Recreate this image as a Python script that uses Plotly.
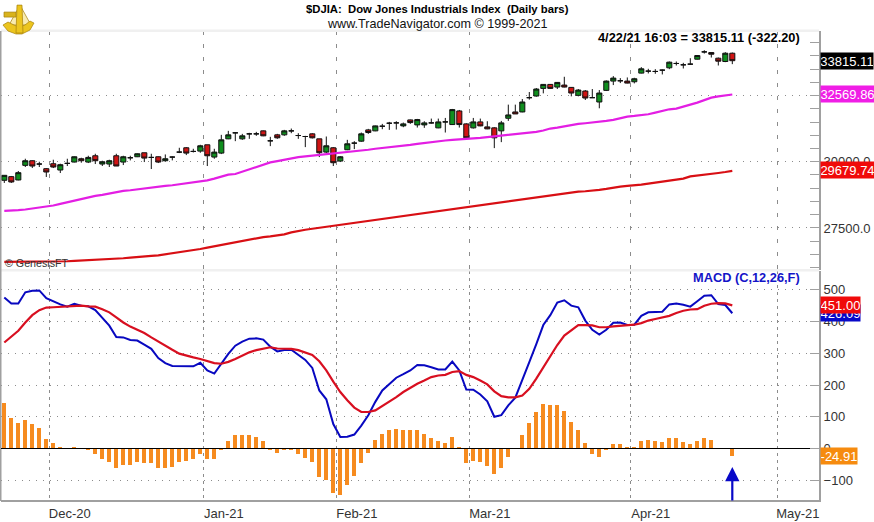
import plotly.graph_objects as go

FONT = "Liberation Sans"

month_labels = ["Dec-20", "Jan-21", "Feb-21", "Mar-21", "Apr-21", "May-21"]
month_first_bar = [7, 29, 48, 67, 90, 111]
price_ticks = [27500, 30000, 32500]
price_tick_labels = ["27500.0", "30000.0", ""]

opens = [29299,29437,29311,29863,30038,29913,29737,29925,29687,29938,29988,30113,29988,30226,29913,29913,30226,29988,30151,30188,30339,30163,30188,30038,30176,30364,30527,30389,30401,30640,30176,30326,30865,31091,30865,31053,31053,31166,30790,31015,31015,31166,30990,30953,31053,30865,30364,30527,30026,30452,30702,30777,31203,31166,31341,31454,31467,31354,31579,31391,31391,31467,31279,31504,31404,31918,31429,31279,31504,31316,31279,31166,31642,31880,31880,32419,32481,32770,32920,32820,32895,32807,32506,32670,32419,32256,32695,33045,33058,33045,33020,33346,33421,33409,33459,33547,33710,33660,33685,33872,34148,34123,33910,33785,34098]
highs = [29487,29462,29650,30113,30051,30000,29762,30076,29925,30113,30201,30151,30226,30301,30038,30076,30301,30226,30226,30314,30339,30301,30201,30276,30201,30527,30552,30489,30640,30640,30489,31015,31166,31103,31053,31091,31128,31178,30940,31053,31203,31253,31078,30978,31078,30865,30953,30552,30214,30827,30777,31103,31241,31366,31429,31504,31529,31479,31592,31617,31529,31629,31629,31654,31993,31955,31454,31654,31629,31529,31304,31542,32156,32156,32368,32632,32782,32933,32933,33008,33208,32820,32745,32707,32745,32707,33070,33233,33158,33183,33170,33572,33509,33496,33484,33785,33785,33735,33910,34023,34211,34123,33935,34136,34123]
lows = [29199,29199,29299,29800,29762,29800,29424,29762,29574,29838,29975,29963,29950,29913,29838,29800,29838,29875,30051,30176,29988,29725,29950,30000,30051,30326,30251,30351,30339,29838,30113,30289,30853,30777,30827,30865,30978,30965,30589,30865,30978,31078,30865,30552,30878,30176,30326,29838,29988,30439,30477,30752,31053,31153,31228,31203,31216,31304,31429,31291,31279,31442,31266,31103,31391,31291,30890,31253,31341,31228,30514,30740,31542,31805,31868,32344,32456,32582,32757,32745,32807,32469,32469,32331,32406,32018,32670,32895,32970,32958,32958,33334,33334,33321,33296,33496,33634,33521,33660,33860,34085,33935,33634,33760,33685]
closes = [29487,29236,29587,30038,29838,29913,29612,29800,29888,29938,30188,30038,30163,30038,30000,30038,29838,30188,30151,30301,30138,30163,29988,30113,30176,30364,30326,30389,30602,30226,30364,30827,31015,31091,30978,31053,31053,30978,30790,30903,31166,31166,30990,30953,30903,30339,30602,29963,30188,30677,30702,31053,31103,31354,31341,31454,31467,31429,31479,31592,31467,31467,31504,31504,31968,31404,30903,31504,31354,31241,30903,31467,31767,31805,32256,32419,32745,32920,32770,32995,32820,32594,32707,32406,32419,32594,33045,33158,33058,32970,33133,33509,33421,33409,33459,33760,33710,33660,33685,34010,34148,34060,33797,34098,33815.11]

ma_fast = [28146,28146,28171,28196,28234,28259,28296,28347,28409,28472,28547,28610,28672,28710,28747,28798,28860,28898,28923,28960,28998,29036,29061,29086,29111,29148,29186,29211,29249,29299,29361,29437,29512,29537,29625,29725,29813,29913,29975,30026,30076,30138,30176,30201,30226,30264,30289,30301,30326,30351,30389,30426,30452,30489,30514,30552,30577,30614,30640,30677,30715,30752,30777,30802,30827,30840,30865,30878,30903,30928,30953,30978,31003,31028,31053,31091,31128,31178,31253,31291,31341,31391,31429,31454,31479,31492,31542,31579,31654,31705,31730,31755,31792,31855,31918,31980,32005,32068,32156,32231,32319,32419,32469,32506,32540]
ma_slow = [26217,26217,26229,26229,26229,26229,26229,26242,26242,26242,26254,26267,26267,26292,26304,26329,26342,26355,26380,26392,26405,26442,26467,26505,26542,26568,26605,26643,26705,26756,26806,26881,26918,26981,27019,27056,27106,27156,27182,27219,27257,27332,27395,27432,27470,27507,27545,27570,27608,27645,27683,27720,27758,27795,27833,27871,27908,27946,27983,28021,28059,28084,28121,28159,28196,28234,28272,28309,28347,28384,28422,28460,28497,28535,28572,28610,28648,28685,28723,28760,28798,28848,28873,28886,28898,28936,28973,29023,29061,29086,29099,29136,29174,29211,29236,29274,29312,29362,29449,29475,29512,29550,29575,29612,29655]

macd_line = [476,457,457,492,497,498,474,463,454,447,456,450,448,436,411,387,351,350,342,340,327,314,285,269,260,259,259,259,270,246,236,267,298,324,337,346,347,343,321,306,310,311,295,279,254,183,155,77,36,37,44,72,105,147,183,204,223,234,246,263,262,256,249,249,274,246,186,185,170,149,100,105,136,160,214,272,329,389,420,460,467,450,445,403,374,359,374,396,397,389,390,418,429,431,431,454,457,453,447,464,481,483,455,452,426.09]
signal_line = [334,353,371,397,420,436,444,445,446,447,448,450,448,447,439,429,413,397,384,374,364,350,337,322,311,299,292,287,282,276,269,267,273,282,293,303,310,314,319,315,315,314,310,303,295,275,246,211,178,152,129,115,115,120,134,146,162,178,191,204,214,225,230,232,241,244,232,225,214,202,180,165,161,161,167,188,220,256,293,326,356,373,389,389,388,382,382,385,387,390,390,395,403,408,413,418,427,434,438,439,450,456,458,457,451.00]
macd_hist = [142,95,79,89,76,64,29,17,4,0,6,0,-4,-18,-33,-43,-62,-52,-52,-43,-46,-46,-62,-62,-59,-43,-40,-33,-18,-33,-33,-5,23,42,42,42,36,23,-5,-15,-5,-5,-18,-30,-43,-90,-99,-140,-146,-115,-87,-46,-15,26,45,58,61,58,58,58,45,32,23,17,36,6,-46,-40,-43,-55,-81,-62,-27,0,42,79,114,139,136,136,117,83,58,17,-18,-27,-4,14,14,3,3,23,26,23,20,32,32,20,14,23,32,26,0,0,-24.91]

last_macd, last_signal, last_hist = macd_line[-1], signal_line[-1], macd_hist[-1]
last_close, last_fast, last_slow = 33815.11, 32569.86, 29679.74

for series in (opens, highs, lows, closes, ma_fast, ma_slow, macd_line, signal_line, macd_hist):
    assert len(series) == 105, len(series)

bars = list(range(105))
month_lines = [b - 0.5 for b in month_first_bar]

# page-pixel helpers for decoration only
L, R, T, B = 1, 819, 31, 502
def px(x): return (x - L) / (R - L)
def py(y): return (B - y) / (B - T)

GREY = "#a0a0a0"
GRID = "#8c8c8c"
GREEN = "#0f8f1e"
RED = "#d01414"

fig = go.Figure()
fig.add_trace(go.Scatter(x=bars, y=ma_slow, mode="lines", line=dict(color="#d80f14", width=2.2), xaxis="x2", yaxis="y"))
fig.add_trace(go.Scatter(x=bars, y=ma_fast, mode="lines", line=dict(color="#e31ee3", width=2.2), xaxis="x2", yaxis="y"))
fig.add_trace(go.Candlestick(
    x=bars, open=opens, high=highs, low=lows, close=closes, xaxis="x2", yaxis="y", whiskerwidth=0,
    increasing=dict(fillcolor=GREEN, line=dict(color="#101010", width=1)),
    decreasing=dict(fillcolor=RED, line=dict(color="#101010", width=1)),
))
fig.add_trace(go.Bar(x=bars, y=macd_hist, width=0.58, marker=dict(color="#f68b1f", line=dict(width=0)), xaxis="x", yaxis="y2"))
fig.add_trace(go.Scatter(x=bars, y=macd_line, mode="lines", line=dict(color="#0808c0", width=2), xaxis="x", yaxis="y2"))
fig.add_trace(go.Scatter(x=bars, y=signal_line, mode="lines", line=dict(color="#d80f20", width=2.2), xaxis="x", yaxis="y2"))

x_range = [(L - 4.3) / 7, (R - 4.3) / 7]
def text(x, y, s, size, color="#000000", bold=False, anchor="left"):
    return dict(xref="paper", yref="paper", x=px(x), y=py(y), xanchor=anchor, yanchor="middle", showarrow=False,
                text=f"<b>{s}</b>" if bold else s, font=dict(family=FONT, size=size, color=color))
def tag(value, yref, s, bg, w):
    return dict(xref="paper", yref=yref, x=px(820), y=value, xanchor="left", yanchor="middle", showarrow=False,
                text=s, bgcolor=bg, borderpad=0, width=w, height=16, align="center",
                font=dict(family=FONT, size=13, color="#ffffff"))

annotations = [
    text(437, 9, "$DJIA:  Dow Jones Industrials Index  (Daily bars)".replace("  ", "\u00a0\u00a0"), 11.3, bold=True, anchor="center"),
    text(437, 24, "www.TradeNavigator.com © 1999-2021", 12.6, color="#111111", anchor="center"),
    text(596, 38, "4/22/21 16:03 = 33815.11 (-322.20)", 12.8, bold=True),
    text(3, 264, "© GenesisFT", 10.7, color="#333333"),
    text(691, 279, "MACD (C,12,26,F)", 12.8, color="#1414c8", bold=True),
    tag(last_close, "y", f"{last_close:.2f}", "#000000", 52),
    tag(last_fast, "y", f"{last_fast:.2f}", "#f01ee6", 53),
    tag(last_slow, "y", f"{last_slow:.2f}", "#f00a0a", 53),
    tag(last_macd, "y2", f"{last_macd:.2f}", "#0808c8", 39),
    tag(last_signal, "y2", f"{last_signal:.2f}", "#f00a0a", 39),
    tag(last_hist, "y2", f"{last_hist:.2f}", "#f68b0f", 36),
    dict(xref="x", yref="y2", x=bars[-1], y=-58, ax=0, ay=35, axref="pixel", ayref="pixel", text="", showarrow=True,
         arrowhead=2, arrowsize=1.3, arrowwidth=2.2, arrowcolor="#0808c8"),
]

GOLD, GOLD_D = "#ecc51e", "#a57f0c"
def rect(x0, y0, x1, y1, color):
    return dict(type="rect", xref="paper", yref="paper", x0=px(x0), x1=px(x1), y0=py(y0), y1=py(y1),
                fillcolor=color, line=dict(width=0), layer="above")
def poly(points, fill, line=GOLD_D, width=0.7):
    d = "M " + " L ".join(f"{px(a):.5f},{py(b):.5f}" for a, b in points) + " Z"
    return dict(type="path", xref="paper", yref="paper", path=d, fillcolor=fill, line=dict(color=line, width=width), layer="above")

shapes = [
    rect(1, 29.5, R, 32, "#f0f0f0"),
    rect(1, 270, R, 272.5, "#f0f0f0"),
    rect(0, 31, 1.5, B + 1, GREY),
    dict(type="line", xref="paper", yref="y2", x0=0, x1=px(810), y0=0, y1=0, line=dict(color="#000000", width=1.2), layer="above"),
    poly([(20, 5), (9, 25), (31, 25)], "rgba(236,197,30,0.35)"),
    poly([(3, 25), (8, 22), (14, 25), (19, 27), (25, 25), (30, 21), (34, 23), (30, 30), (22, 34), (16, 34), (8, 31)], GOLD),
    poly([(17, 5), (22, 5), (23, 33), (16, 33)], GOLD),
    poly([(4, 12), (16, 12), (16, 17), (4, 17)], "#d9b31c"),
]

fig.update_layout(
    width=874, height=522, autosize=False, showlegend=False, hovermode=False,
    margin=dict(l=L, r=874 - R, t=T, b=522 - B),
    paper_bgcolor="#ffffff", plot_bgcolor="#ffffff",
    font=dict(family=FONT, size=13, color="#333333"),
    boxgap=0.15, boxgroupgap=0.15, bargap=0,
    annotations=annotations, shapes=shapes,
    xaxis=dict(anchor="y2", range=x_range, tickmode="array", tickvals=month_lines, ticktext=month_labels,
               ticks="", showgrid=True, gridcolor=GRID, griddash="3px,4px", gridwidth=1, zeroline=False,
               showline=True, linecolor=GREY, linewidth=2, ticklabelshift=20,
               tickfont=dict(family=FONT, size=13, color="#333333"), rangeslider=dict(visible=False)),
    xaxis2=dict(anchor="y", matches="x", range=x_range, tickmode="array", tickvals=month_lines, showticklabels=False,
                ticks="", showgrid=True, gridcolor=GRID, griddash="4px,9px", gridwidth=1, zeroline=False,
                showline=False, rangeslider=dict(visible=False)),
    yaxis=dict(domain=[py(271), 1], side="right", range=[25875 + 37.6, 34899 + 37.6], tickmode="array",
               tickvals=price_ticks, ticktext=price_tick_labels,
               showgrid=True, gridcolor=GRID, griddash="1px,6px", zeroline=False,
               showline=True, linecolor=GREY, linewidth=2, ticks="inside", ticklen=9, tickcolor=GREY,
               minor=dict(dtick=500, ticks="inside", ticklen=9, tickcolor=GREY, showgrid=False),
               tickfont=dict(family=FONT, size=13, color="#333333")),
    yaxis2=dict(domain=[0, py(272)], side="right", range=[-162.2, 559.3], tick0=0, dtick=100,
                showgrid=True, gridcolor=GRID, griddash="1px,6px", zeroline=False,
                showline=True, linecolor=GREY, linewidth=2, ticks="inside", ticklen=9, tickcolor=GREY,
                tickfont=dict(family=FONT, size=13, color="#333333")),
)

fig.write_html("out.html", config=dict(displayModeBar=False), post_script="document.body.style.margin='0';")
